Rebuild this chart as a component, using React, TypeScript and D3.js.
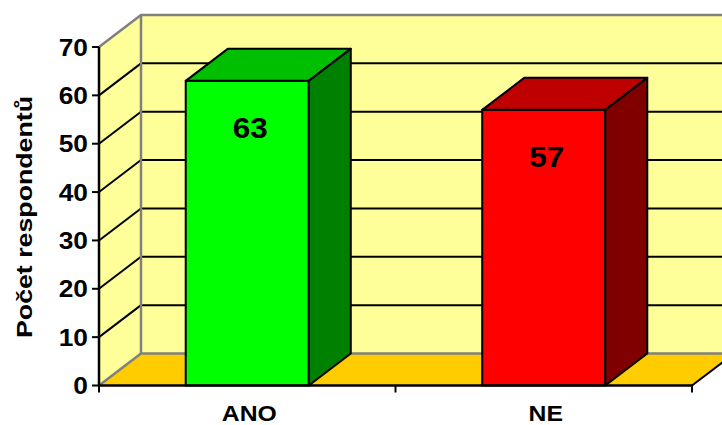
import * as React from "react";
import * as d3 from "d3";

const categories = ["ANO", "NE"];
const values = [63, 57];
const yTicks = [0, 10, 20, 30, 40, 50, 60, 70];
const frontColors = ["#00FF00", "#FF0000"];
const topColors = ["#00BF00", "#BF0000"];
const sideColors = ["#008000", "#800000"];

const W = 722;
const H = 425;
const DX = 42;
const DY = 32;
const FONT = "'Liberation Sans', Arial, sans-serif";

const App: React.FunctionComponent = () => {
  const y = d3.scaleLinear().domain([0, 70]).range([385.5, 47]);
  const x = d3
    .scaleBand<string>()
    .domain(categories)
    .range([99, 692])
    .paddingInner(0.585)
    .paddingOuter(0.2925);
  const step = x.step();
  const x0 = 99;
  const x1 = 692;
  const y0 = y(0);
  const yTop = y(70);

  const poly = (pts: [number, number][]) => pts.map(p => p.join(",")).join(" ");

  return (
    <svg
      width={W}
      height={H}
      style={{ position: "absolute", left: 0, top: 0, display: "block" }}
    >
      <rect width={W} height={H} fill="#FFFFFF" />
      {/* back wall */}
      <rect
        x={x0 + DX}
        y={yTop - DY}
        width={x1 - x0 + 20}
        height={y0 - yTop}
        fill="#FFFF99"
      />
      {/* left side wall */}
      <polygon
        points={poly([
          [x0, y0],
          [x0 + DX, y0 - DY],
          [x0 + DX, yTop - DY],
          [x0, yTop]
        ])}
        fill="#FFFF99"
      />
      {/* gridlines */}
      {yTicks
        .filter(t => t > 0 && t < 70)
        .map(t => (
          <g key={"g" + t}>
            <line
              x1={x0}
              y1={y(t)}
              x2={x0 + DX}
              y2={y(t) - DY}
              stroke="#000"
              strokeWidth={2}
            />
            <line
              x1={x0 + DX}
              y1={y(t) - DY}
              x2={W + 10}
              y2={y(t) - DY}
              stroke="#000"
              strokeWidth={2}
            />
          </g>
        ))}
      {/* wall borders */}
      <polyline
        points={poly([
          [x0, yTop],
          [x0 + DX, yTop - DY],
          [W + 10, yTop - DY]
        ])}
        fill="none"
        stroke="#808080"
        strokeWidth={2.5}
      />
      <line
        x1={x0 + DX}
        y1={yTop - DY}
        x2={x0 + DX}
        y2={y0 - DY}
        stroke="#808080"
        strokeWidth={2.5}
      />
      {/* floor */}
      <polygon
        points={poly([
          [x0, y0],
          [x0 + DX, y0 - DY],
          [x1 + DX, y0 - DY],
          [x1, y0]
        ])}
        fill="#FFCC00"
      />
      <polyline
        points={poly([
          [x0, y0],
          [x0 + DX, y0 - DY],
          [x1 + DX, y0 - DY]
        ])}
        fill="none"
        stroke="#808080"
        strokeWidth={2.5}
      />
      <line
        x1={x1}
        y1={y0}
        x2={x1 + DX}
        y2={y0 - DY}
        stroke="#000"
        strokeWidth={2}
      />
      {/* bars */}
      {categories.map((c, i) => {
        const bx = x(c) as number;
        const bw = x.bandwidth();
        const by = y(values[i]);
        return (
          <g key={c} stroke="#000" strokeWidth={2} strokeLinejoin="round">
            <rect x={bx} y={by} width={bw} height={y0 - by} fill={frontColors[i]} />
            <polygon
              points={poly([
                [bx, by],
                [bx + DX, by - DY],
                [bx + bw + DX, by - DY],
                [bx + bw, by]
              ])}
              fill={topColors[i]}
            />
            <polygon
              points={poly([
                [bx + bw, by],
                [bx + bw + DX, by - DY],
                [bx + bw + DX, y0 - DY],
                [bx + bw, y0]
              ])}
              fill={sideColors[i]}
            />
            <text
              transform={`translate(${bx + bw / 2 + 3},${by + 57}) scale(1.05,1)`}
              textAnchor="middle"
              fontFamily={FONT}
              fontWeight="bold"
              fontSize={30}
              fill="#000"
              stroke="none"
            >
              {values[i]}
            </text>
          </g>
        );
      })}
      {/* y axis */}
      <line x1={x0} y1={yTop} x2={x0} y2={y0 + 1} stroke="#000" strokeWidth={2.5} />
      {yTicks.map(t => (
        <g key={"t" + t}>
          <line x1={x0 - 7} y1={y(t)} x2={x0} y2={y(t)} stroke="#000" strokeWidth={2} />
          <text
            transform={`translate(${x0 - 11},${y(t) + 8.5}) scale(1.12,1)`}
            textAnchor="end"
            fontFamily={FONT}
            fontWeight="bold"
            fontSize={23.5}
            fill="#000"
          >
            {t}
          </text>
        </g>
      ))}
      {/* x axis */}
      <line x1={x0} y1={y0} x2={x1} y2={y0} stroke="#000" strokeWidth={2.5} />
      {[0, 1, 2].map(k => (
        <line
          key={"xt" + k}
          x1={x0 + k * step}
          y1={y0}
          x2={x0 + k * step}
          y2={y0 + 7}
          stroke="#000"
          strokeWidth={2}
        />
      ))}
      {categories.map(c => (
        <text
          key={"l" + c}
          transform={`translate(${(x(c) as number) + x.bandwidth() / 2 + 2},421) scale(1.1,1)`}
          textAnchor="middle"
          fontFamily={FONT}
          fontWeight="bold"
          fontSize={22.5}
          fill="#000"
        >
          {c}
        </text>
      ))}
      {/* y axis title */}
      <text
        transform="translate(32,217) rotate(-90)"
        textAnchor="middle"
        fontFamily={FONT}
        fontWeight="bold"
        fontSize={22}
        textLength={242}
        lengthAdjust="spacingAndGlyphs"
        fill="#000"
      >
        Počet respondentů
      </text>
    </svg>
  );
};

export default App;
